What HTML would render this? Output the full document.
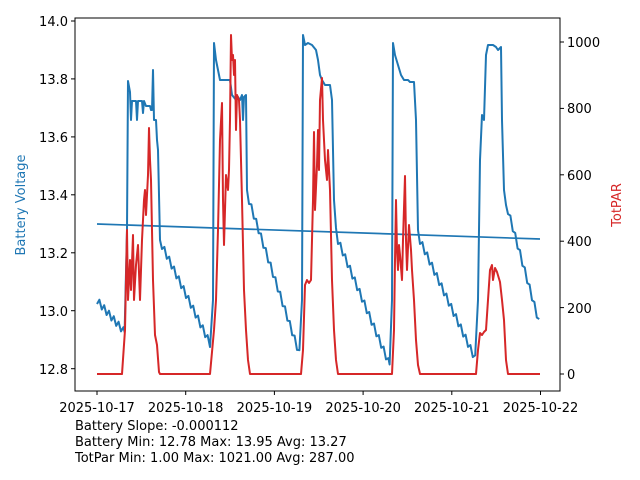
<!DOCTYPE html>
<html><head><meta charset="utf-8"><style>
body{margin:0;background:#fff;}
svg{display:block;font-family:"DejaVu Sans","Liberation Sans",sans-serif;}
</style></head><body>
<svg id="s" width="640" height="480" viewBox="0 0 640 480" xmlns="http://www.w3.org/2000/svg">
<rect width="640" height="480" fill="#fff"/>
<line x1="97" y1="224" x2="540" y2="239" stroke="#1f77b4" stroke-width="1.7"/>
<polyline id="blue" fill="none" stroke="#1f77b4" stroke-width="2" stroke-linejoin="round" points=""/>
<polyline id="red" fill="none" stroke="#d62728" stroke-width="2" stroke-linejoin="round" points="97,374 122,374 125,330 127,230 128,300 130,260 131,290 133,235 134,300 136,265 138,245 140,300 142,240 144,200 145,190 146,215 148,175 149,128 150,160 151,180 153,280 155,335 157,345 159,372 160,374 210,374 214,330 216,300 218,230 220,140 222,103 223,200 224,245 226,175 228,190 229,170 230,120 231,35 232,60 233,55 234,75 235,60 236,130 237,95 239,100 240,120 242,200 244,290 246,330 248,360 250,374 301,374 303,350 305,285 307,280 309,283 311,280 313,200 314,132 315,210 317,165 318,130 319,170 320,100 322,78 323,120 325,160 327,180 328,150 330,190 332,280 334,330 336,360 338,374 392,374 394,330 395,260 396,200 397,250 398,270 399,245 400,255 402,280 403,240 405,176 406,240 407,270 409,225 411,250 412,270 414,300 416,340 418,365 420,374 476,374 478,350 480,333 482,335 484,332 486,330 488,300 490,270 492,265 493,280 495,268 497,272 500,282 502,300 504,320 506,360 508,374 540,374"/>
<rect x="75" y="18" width="485" height="373" fill="none" stroke="#000" stroke-width="1"/>
<g stroke="#000" stroke-width="1">
<line x1="71" y1="21" x2="75" y2="21"/><line x1="71" y1="78.9" x2="75" y2="78.9"/><line x1="71" y1="136.9" x2="75" y2="136.9"/><line x1="71" y1="194.8" x2="75" y2="194.8"/><line x1="71" y1="252.8" x2="75" y2="252.8"/><line x1="71" y1="310.7" x2="75" y2="310.7"/><line x1="71" y1="368.7" x2="75" y2="368.7"/>
<line x1="97" y1="391" x2="97" y2="395"/><line x1="185.7" y1="391" x2="185.7" y2="395"/><line x1="274.4" y1="391" x2="274.4" y2="395"/><line x1="363.1" y1="391" x2="363.1" y2="395"/><line x1="451.8" y1="391" x2="451.8" y2="395"/><line x1="540.5" y1="391" x2="540.5" y2="395"/>
<line x1="560" y1="374" x2="564" y2="374"/><line x1="560" y1="307.6" x2="564" y2="307.6"/><line x1="560" y1="241.2" x2="564" y2="241.2"/><line x1="560" y1="174.8" x2="564" y2="174.8"/><line x1="560" y1="108.4" x2="564" y2="108.4"/><line x1="560" y1="42" x2="564" y2="42"/>
</g>
<g font-size="13" fill="#000" text-anchor="end">
<text x="68" y="26">14.0</text><text x="68" y="84">13.8</text><text x="68" y="142">13.6</text><text x="68" y="200">13.4</text><text x="68" y="258">13.2</text><text x="68" y="316">13.0</text><text x="68" y="374">12.8</text>
</g>
<g font-size="13" fill="#000" text-anchor="start">
<text x="567" y="379">0</text><text x="567" y="313">200</text><text x="567" y="246">400</text><text x="567" y="180">600</text><text x="567" y="113">800</text><text x="567" y="47">1000</text>
</g>
<g font-size="13" fill="#000" text-anchor="middle">
<text x="97" y="412">2025-10-17</text><text x="185.7" y="412">2025-10-18</text><text x="274.4" y="412">2025-10-19</text><text x="363.1" y="412">2025-10-20</text><text x="451.8" y="412">2025-10-21</text><text x="540.5" y="412">2025-10-22</text>
</g>
<text transform="translate(25,205) rotate(-90)" font-size="13" fill="#1f77b4" text-anchor="middle">Battery Voltage</text>
<text transform="translate(621,205) rotate(-90)" font-size="13" fill="#d62728" text-anchor="middle">TotPAR</text>
<g font-size="13" fill="#000">
<text x="75" y="430">Battery Slope: -0.000112</text>
<text x="75" y="446">Battery Min: 12.78 Max: 13.95 Avg: 13.27</text>
<text x="75" y="462">TotPar Min: 1.00 Max: 1021.00 Avg: 287.00</text>
</g>
</svg>
<script>
var p=[];
function decl(x0,y0,x1,y1){for(var x=x0,i=0;x<=x1;x+=1.2,i++){var y=y0+(y1-y0)*(x-x0)/(x1-x0)+((i%4==0)?4:(i%4==2?-3:0.5));p.push(x.toFixed(1)+","+y.toFixed(1));}}
function add(a){for(var i=0;i<a.length;i+=2)p.push(a[i]+","+a[i+1]);}
decl(97,300,125,332);
add([127,230,128,81,130,92,131,120,132,101,136,101,137,120,138,101,142,101,143,113,144,101,146,106,148,106,150,106,151,110,152,110,153,70,154,120,156,120,157,140,158,150,160,240]);
decl(162,245,211,345);
add([213,300,214,43,216,60,218,70,220,80,230,80,232,95,236,100,238,97,240,100,242,95,243,120,244,97,246,95,247,190]);
decl(249,200,300,355);
add([302,300,303,35,305,45,308,43,312,45,316,50,318,60,320,75,322,80,325,85,327,85,330,85,332,100,334,200,336,228]);
decl(338,240,390,365);
add([392,300,393,43,395,55,398,65,401,75,404,80,408,80,410,82,414,82,416,120,418,230]);
decl(420,240,476,360);
add([478,300,480,160,482,115,484,120,486,55,488,45,493,45,496,47,498,50,500,48,501,47,502,120,504,190,506,205]);
decl(508,210,540,325);
document.getElementById('blue').setAttribute('points',p.join(' '));
</script>
</body></html>
